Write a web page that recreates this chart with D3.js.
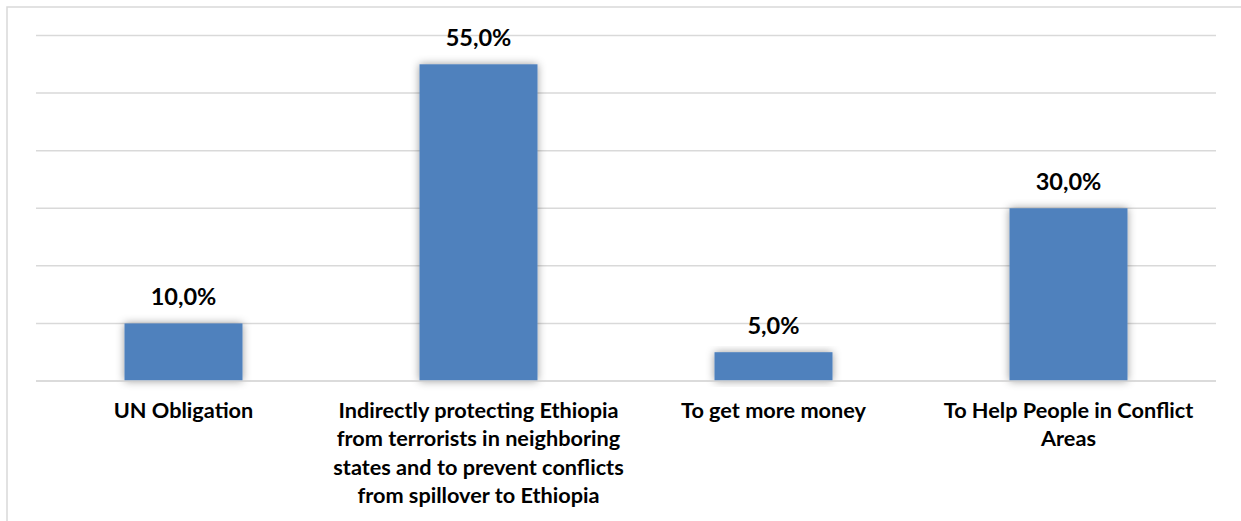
<!DOCTYPE html>
<html>
<head>
<meta charset="utf-8">
<script src="https://cdn.jsdelivr.net/npm/d3@7"></script>
<style>
  html, body { margin: 0; padding: 0; background: #fff; }
  svg { display: block; }
  text { font-family: Lato, "Open Sans", sans-serif; font-weight: 700; fill: #000; }
</style>
</head>
<body>
<svg id="chart" width="1241" height="521"></svg>
<script>
// Reasons given for participating in peacekeeping missions (share of respondents)
const categories = [
  "UN Obligation",
  "Indirectly protecting Ethiopia\nfrom terrorists in neighboring\nstates and to prevent conflicts\nfrom spillover to Ethiopia",
  "To get more money",
  "To Help People in Conflict\nAreas"
];
const shares = [0.10, 0.55, 0.05, 0.30];
const gridTicks = [0, 0.1, 0.2, 0.3, 0.4, 0.5, 0.6];

const svg = d3.select("#chart");
const W = 1241, H = 521;

// chart frame
svg.append("rect")
  .attr("x", 7).attr("y", 7)
  .attr("width", W + 10).attr("height", H + 10)
  .attr("fill", "#fff")
  .attr("stroke", "#d9d9d9")
  .attr("stroke-width", 1.5);

// soft outer shadow on bars
const defs = svg.append("defs");
const f = defs.append("filter").attr("id", "barShadow")
  .attr("x", "-20%").attr("y", "-20%").attr("width", "140%").attr("height", "140%");
f.append("feGaussianBlur").attr("in", "SourceAlpha").attr("stdDeviation", 4).attr("result", "blur");
f.append("feFlood").attr("flood-color", "#000").attr("flood-opacity", 0.4).attr("result", "col");
f.append("feComposite").attr("in", "col").attr("in2", "blur").attr("operator", "in").attr("result", "shadow");
const m = f.append("feMerge");
m.append("feMergeNode").attr("in", "shadow");
m.append("feMergeNode").attr("in", "SourceGraphic");

const x = d3.scaleBand()
  .domain(categories)
  .range([36, 1216])
  .paddingInner(0.6)
  .paddingOuter(0.3);

const y = d3.scaleLinear()
  .domain([0, 0.6])
  .range([381, 35.5]);

// horizontal gridlines
svg.append("g")
  .selectAll("line")
  .data(gridTicks)
  .join("line")
  .attr("x1", 36).attr("x2", 1216)
  .attr("y1", d => y(d)).attr("y2", d => y(d))
  .attr("stroke", "#d9d9d9")
  .attr("stroke-width", 1.5);

// bars
svg.append("g")
  .selectAll("rect")
  .data(categories)
  .join("rect")
  .attr("x", d => x(d))
  .attr("width", x.bandwidth())
  .attr("y", (d, i) => y(shares[i]))
  .attr("height", (d, i) => y(0) - y(shares[i]))
  .attr("fill", "#4f81bd")
  .attr("filter", "url(#barShadow)");

// baseline drawn over the bar shadows
svg.append("line")
  .attr("x1", 36).attr("x2", 1216)
  .attr("y1", y(0)).attr("y2", y(0))
  .attr("stroke", "#d9d9d9")
  .attr("stroke-width", 1.5);

// value labels
const fmt = v => d3.format(".1f")(v * 100).replace(".", ",") + "%";
svg.append("g")
  .selectAll("text")
  .data(categories)
  .join("text")
  .attr("x", d => x(d) + x.bandwidth() / 2)
  .attr("y", (d, i) => y(shares[i]) - 18)
  .attr("text-anchor", "middle")
  .attr("font-size", 23.5)
  .text((d, i) => fmt(shares[i]));

// category labels
const cat = svg.append("g")
  .selectAll("text")
  .data(categories)
  .join("text")
  .attr("x", d => x(d) + x.bandwidth() / 2)
  .attr("y", 418)
  .attr("text-anchor", "middle")
  .attr("font-size", 21.7);
cat.selectAll("tspan")
  .data(d => d.split("\n").map(line => ({ line, cx: x(d) + x.bandwidth() / 2 })))
  .join("tspan")
  .attr("x", d => d.cx)
  .attr("dy", (d, i) => i === 0 ? 0 : 28.3)
  .text(d => d.line);
</script>
</body>
</html>
